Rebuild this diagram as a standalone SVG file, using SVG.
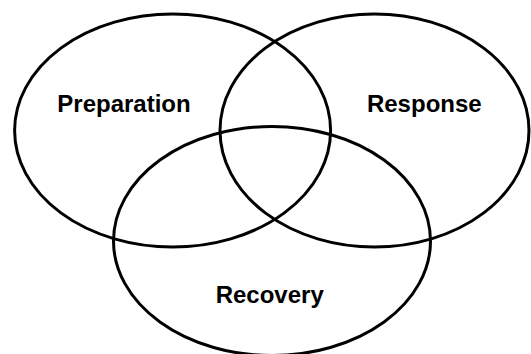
<svg xmlns="http://www.w3.org/2000/svg" width="531" height="354" viewBox="0 0 531 354">
  <style>
    .ring { fill: none; stroke: #000; stroke-width: 3; }
    .label { font-family: "Liberation Sans", Arial, sans-serif; font-weight: bold; font-size: 24px; fill: #000; text-anchor: middle; }
  </style>
  <rect width="531" height="354" fill="#fff"/>
  <g id="preparation">
    <ellipse class="ring" cx="172.6" cy="130.5" rx="158" ry="116.5"/>
    <text class="label" x="124" y="111.7">Preparation</text>
  </g>
  <g id="response">
    <ellipse class="ring" cx="374.5" cy="130.5" rx="154.5" ry="116.5"/>
    <text class="label" x="424.3" y="111.7">Response</text>
  </g>
  <g id="recovery">
    <ellipse class="ring" cx="272" cy="241" rx="158.5" ry="114.5"/>
    <text class="label" x="269.7" y="303">Recovery</text>
  </g>
  <g id="connectors"/>
</svg>
